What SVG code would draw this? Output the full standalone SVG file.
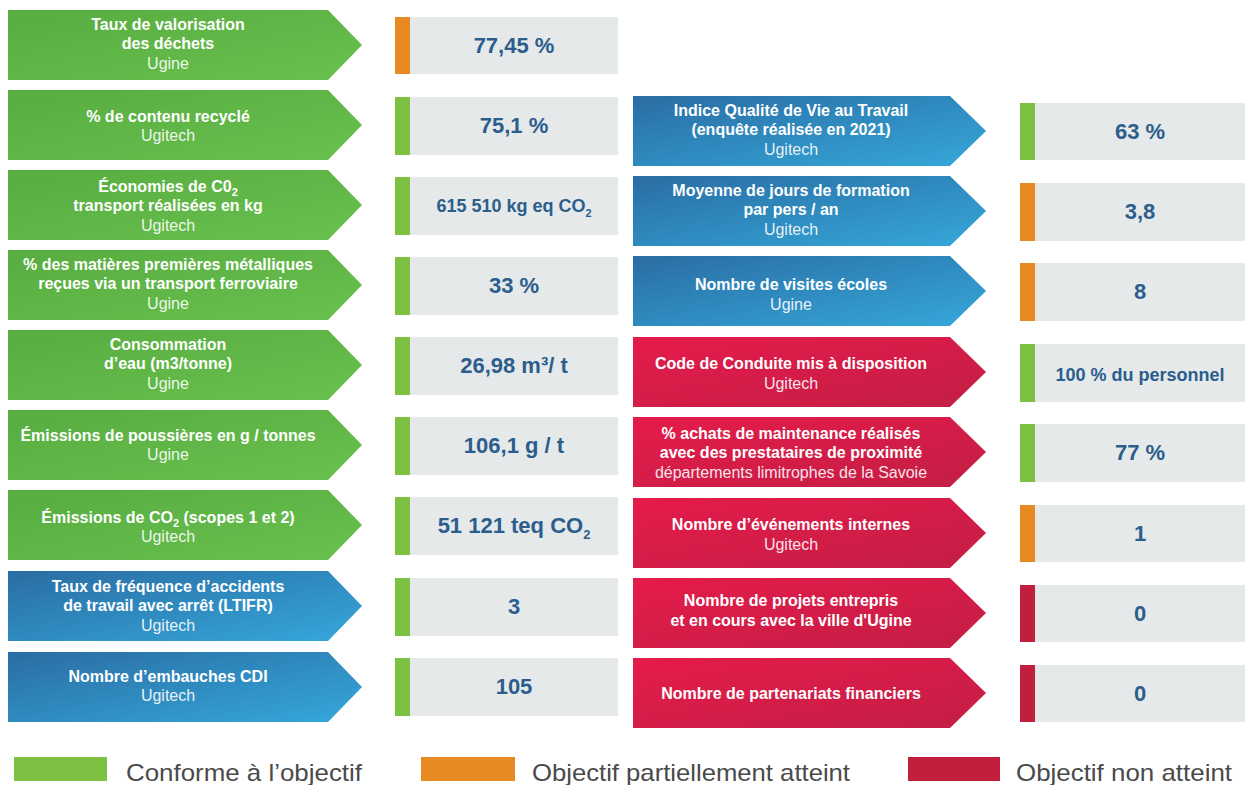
<svg xmlns="http://www.w3.org/2000/svg" width="1245" height="785" viewBox="0 0 1245 785">
<defs>
<linearGradient id="gG" x1="0" y1="0" x2="1" y2="1"><stop offset="0" stop-color="#58ac40"/><stop offset="1" stop-color="#68c14e"/></linearGradient>
<linearGradient id="gB" x1="0" y1="0" x2="1" y2="1"><stop offset="0" stop-color="#2a6da4"/><stop offset="1" stop-color="#35a8da"/></linearGradient>
<linearGradient id="gR" x1="0" y1="0" x2="1" y2="1"><stop offset="0" stop-color="#e51b4b"/><stop offset="1" stop-color="#c31e44"/></linearGradient>
<style>
.g{fill:url(#gG)} .b{fill:url(#gB)} .r{fill:url(#gR)}
.box{fill:#e5e9e9}
.ok{fill:#7dc142} .part{fill:#e88a23} .no{fill:#c21f3f}
.t{font-family:"Liberation Sans",Arial,sans-serif;font-size:16px;font-weight:bold;fill:#ffffff;text-anchor:middle}
.s{font-family:"Liberation Sans",Arial,sans-serif;font-size:16px;fill:#ffffff;fill-opacity:0.9;text-anchor:middle}
.v{font-family:"Liberation Sans",Arial,sans-serif;font-size:22px;font-weight:bold;fill:#2b5d8d;text-anchor:middle}
.vs{font-size:18px}
.sub{font-size:11px}
.lg{font-family:"Liberation Sans",Arial,sans-serif;font-size:24px;fill:#4a4a4a}
</style>
</defs>

<!-- LEFT COLUMN -->
<g id="n1"><polygon class="g" points="8,10 328,10 362,45 328,80 8,80"/>
<text class="t" x="168" y="30">Taux de valorisation</text><text class="t" x="168" y="49">des déchets</text><text class="s" x="168" y="69">Ugine</text></g>
<g id="v1"><rect class="part" x="395" y="17" width="15" height="57"/><rect class="box" x="410" y="17" width="208" height="57"/><text class="v" x="514" y="53">77,45 %</text></g>

<g id="n2"><polygon class="g" points="8,90 328,90 362,125 328,160 8,160"/>
<text class="t" x="168" y="122">% de contenu recyclé</text><text class="s" x="168" y="141">Ugitech</text></g>
<g id="v2"><rect class="ok" x="395" y="97" width="15" height="58"/><rect class="box" x="410" y="97" width="208" height="58"/><text class="v" x="514" y="133">75,1 %</text></g>

<g id="n3"><polygon class="g" points="8,170 328,170 362,205 328,240 8,240"/>
<text class="t" x="168" y="192">Économies de C0<tspan class="sub" dy="4">2</tspan></text><text class="t" x="168" y="211">transport réalisées en kg</text><text class="s" x="168" y="231">Ugitech</text></g>
<g id="v3"><rect class="ok" x="395" y="177" width="15" height="58"/><rect class="box" x="410" y="177" width="208" height="58"/><text class="v vs" x="514" y="212">615 510 kg eq CO<tspan class="sub" dy="5">2</tspan></text></g>

<g id="n4"><polygon class="g" points="8,250 328,250 362,285 328,320 8,320"/>
<text class="t" x="168" y="270">% des matières premières métalliques</text><text class="t" x="168" y="289">reçues via un transport ferroviaire</text><text class="s" x="168" y="309">Ugine</text></g>
<g id="v4"><rect class="ok" x="395" y="257" width="15" height="58"/><rect class="box" x="410" y="257" width="208" height="58"/><text class="v" x="514" y="293">33 %</text></g>

<g id="n5"><polygon class="g" points="8,330 328,330 362,365 328,400 8,400"/>
<text class="t" x="168" y="350">Consommation</text><text class="t" x="168" y="369">d’eau (m3/tonne)</text><text class="s" x="168" y="389">Ugine</text></g>
<g id="v5"><rect class="ok" x="395" y="337" width="15" height="58"/><rect class="box" x="410" y="337" width="208" height="58"/><text class="v" x="514" y="373">26,98 m³/ t</text></g>

<g id="n6"><polygon class="g" points="8,410 328,410 362,445 328,480 8,480"/>
<text class="t" x="168" y="441">Émissions de poussières en g / tonnes</text><text class="s" x="168" y="460">Ugine</text></g>
<g id="v6"><rect class="ok" x="395" y="417" width="15" height="58"/><rect class="box" x="410" y="417" width="208" height="58"/><text class="v" x="514" y="453">106,1 g / t</text></g>

<g id="n7"><polygon class="g" points="8,490 328,490 362,525 328,560 8,560"/>
<text class="t" x="168" y="523">Émissions de CO<tspan class="sub" dy="4">2</tspan><tspan dy="-4"> (scopes 1 et 2)</tspan></text><text class="s" x="168" y="542">Ugitech</text></g>
<g id="v7"><rect class="ok" x="395" y="497" width="15" height="58"/><rect class="box" x="410" y="497" width="208" height="58"/><text class="v" x="514" y="533">51 121 teq CO<tspan class="sub" dy="6" style="font-size:13px">2</tspan></text></g>

<g id="n8"><polygon class="b" points="8,571 328,571 362,606 328,641 8,641"/>
<text class="t" x="168" y="592">Taux de fréquence d’accidents</text><text class="t" x="168" y="611">de travail avec arrêt (LTIFR)</text><text class="s" x="168" y="631">Ugitech</text></g>
<g id="v8"><rect class="ok" x="395" y="578" width="15" height="58"/><rect class="box" x="410" y="578" width="208" height="58"/><text class="v" x="514" y="614">3</text></g>

<g id="n9"><polygon class="b" points="8,652 328,652 362,687 328,722 8,722"/>
<text class="t" x="168" y="682">Nombre d’embauches CDI</text><text class="s" x="168" y="701">Ugitech</text></g>
<g id="v9"><rect class="ok" x="395" y="658" width="15" height="58"/><rect class="box" x="410" y="658" width="208" height="58"/><text class="v" x="514" y="694">105</text></g>

<!-- RIGHT COLUMN -->
<g id="m1"><polygon class="b" points="633,96 950,96 986,131 950,166 633,166"/>
<text class="t" x="791" y="116">Indice Qualité de Vie au Travail</text><text class="t" x="791" y="135">(enquête réalisée en 2021)</text><text class="s" x="791" y="155">Ugitech</text></g>
<g id="w1"><rect class="ok" x="1020" y="103" width="15" height="57"/><rect class="box" x="1035" y="103" width="210" height="57"/><text class="v" x="1140" y="139">63 %</text></g>

<g id="m2"><polygon class="b" points="633,176 950,176 986,211 950,246 633,246"/>
<text class="t" x="791" y="196">Moyenne de jours de formation</text><text class="t" x="791" y="215">par pers / an</text><text class="s" x="791" y="235">Ugitech</text></g>
<g id="w2"><rect class="part" x="1020" y="183" width="15" height="58"/><rect class="box" x="1035" y="183" width="210" height="58"/><text class="v" x="1140" y="219">3,8</text></g>

<g id="m3"><polygon class="b" points="633,256 950,256 986,291 950,326 633,326"/>
<text class="t" x="791" y="290">Nombre de visites écoles</text><text class="s" x="791" y="310">Ugine</text></g>
<g id="w3"><rect class="part" x="1020" y="263" width="15" height="58"/><rect class="box" x="1035" y="263" width="210" height="58"/><text class="v" x="1140" y="299">8</text></g>

<g id="m4"><polygon class="r" points="633,337 950,337 986,372 950,407 633,407"/>
<text class="t" x="791" y="369">Code de Conduite mis à disposition</text><text class="s" x="791" y="389">Ugitech</text></g>
<g id="w4"><rect class="ok" x="1020" y="344" width="15" height="58"/><rect class="box" x="1035" y="344" width="210" height="58"/><text class="v vs" x="1140" y="381">100 % du personnel</text></g>

<g id="m5"><polygon class="r" points="633,417 950,417 986,452 950,487 633,487"/>
<text class="t" x="791" y="439">% achats de maintenance réalisés</text><text class="t" x="791" y="458">avec des prestataires de proximité</text><text class="s" x="791" y="478">départements limitrophes de la Savoie</text></g>
<g id="w5"><rect class="ok" x="1020" y="424" width="15" height="58"/><rect class="box" x="1035" y="424" width="210" height="58"/><text class="v" x="1140" y="460">77 %</text></g>

<g id="m6"><polygon class="r" points="633,498 950,498 986,533 950,568 633,568"/>
<text class="t" x="791" y="530">Nombre d’événements internes</text><text class="s" x="791" y="550">Ugitech</text></g>
<g id="w6"><rect class="part" x="1020" y="505" width="15" height="57"/><rect class="box" x="1035" y="505" width="210" height="57"/><text class="v" x="1140" y="541">1</text></g>

<g id="m7"><polygon class="r" points="633,578 950,578 986,613 950,648 633,648"/>
<text class="t" x="791" y="606">Nombre de projets entrepris</text><text class="t" x="791" y="626">et en cours avec la ville d'Ugine</text></g>
<g id="w7"><rect class="no" x="1020" y="585" width="15" height="57"/><rect class="box" x="1035" y="585" width="210" height="57"/><text class="v" x="1140" y="621">0</text></g>

<g id="m8"><polygon class="r" points="633,658 950,658 986,693 950,728 633,728"/>
<text class="t" x="791" y="699">Nombre de partenariats financiers</text></g>
<g id="w8"><rect class="no" x="1020" y="665" width="15" height="57"/><rect class="box" x="1035" y="665" width="210" height="57"/><text class="v" x="1140" y="701">0</text></g>

<g id="connectors"></g>

<!-- LEGEND -->
<g id="legend">
<rect class="ok" x="14" y="757" width="93" height="24"/><text class="lg" x="126" y="781" textLength="236" lengthAdjust="spacingAndGlyphs">Conforme à l’objectif</text>
<rect class="part" x="421" y="757" width="94" height="24"/><text class="lg" x="532" y="781" textLength="318" lengthAdjust="spacingAndGlyphs">Objectif partiellement atteint</text>
<rect class="no" x="908" y="757" width="92" height="24"/><text class="lg" x="1016" y="781" textLength="216" lengthAdjust="spacingAndGlyphs">Objectif non atteint</text>
</g>
</svg>
